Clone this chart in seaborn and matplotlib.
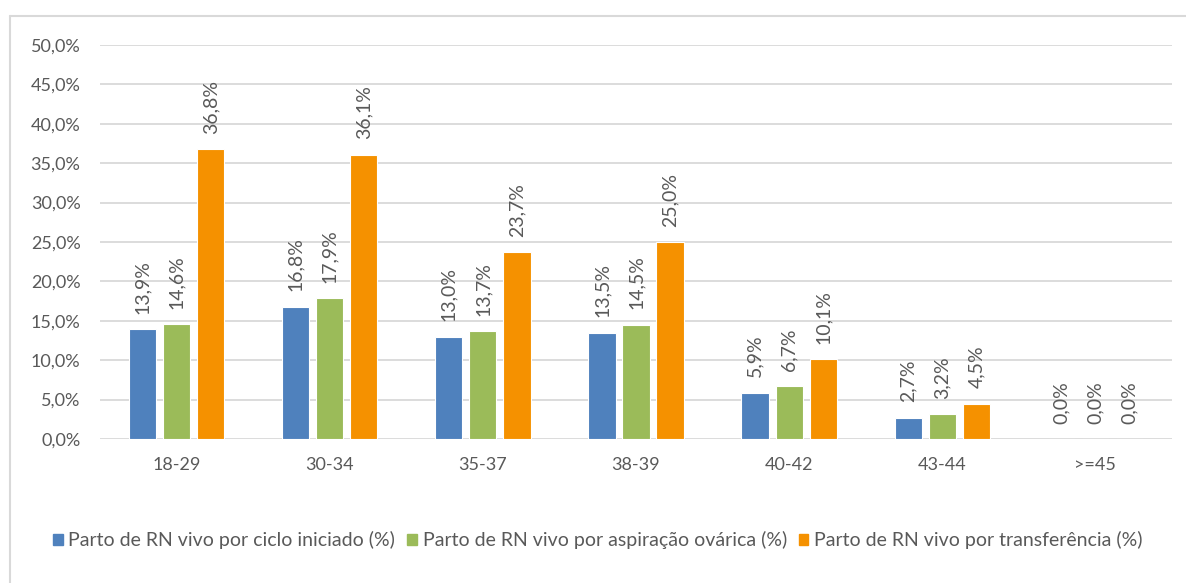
import numpy as np
import pandas as pd
import matplotlib
matplotlib.use('Agg')
import matplotlib.pyplot as plt
import seaborn as sns
from matplotlib.lines import Line2D
from matplotlib.ticker import FuncFormatter

age_groups = ['18-29', '30-34', '35-37', '38-39', '40-42', '43-44', '>=45']
series_names = [
    'Parto de RN vivo por ciclo iniciado (%)',
    'Parto de RN vivo por aspiração ovárica (%)',
    'Parto de RN vivo por transferência (%)',
]
por_ciclo = [13.9, 16.8, 13.0, 13.5, 5.9, 2.7, 0.0]
por_aspiracao = [14.6, 17.9, 13.7, 14.5, 6.7, 3.2, 0.0]
por_transferencia = [36.8, 36.1, 23.7, 25.0, 10.1, 4.5, 0.0]
colors = ['#4F81BD', '#9BBB59', '#F59100']

TEXT = '#595959'
GRID = '#D9D9D9'

sns.set_style('white')
plt.rcParams['font.family'] = ['Lato', 'DejaVu Sans']

df = pd.DataFrame({
    'grupo': age_groups * 3,
    'serie': np.repeat(series_names, len(age_groups)),
    'valor': por_ciclo + por_aspiracao + por_transferencia,
})

fig = plt.figure(figsize=(11.86, 5.83), dpi=100)
ax = fig.add_axes([100 / 1186, 144 / 583, 1072 / 1186, 394 / 583])

sns.barplot(data=df, x='grupo', y='valor', hue='serie', palette=colors,
            width=0.667, gap=0.2, edgecolor='white', linewidth=0.8,
            saturation=1, ax=ax, legend=False)

for cont, vals in zip(ax.containers, [por_ciclo, por_aspiracao, por_transferencia]):
    labels = [f"{v:.1f}%".replace('.', ',') for v in vals]
    ax.bar_label(cont, labels=labels, rotation=90, padding=11,
                 color=TEXT, fontsize=14)

ax.set_ylim(0, 50)
ax.set_xlim(-0.5, len(age_groups) - 0.5)
ax.set_yticks(np.arange(0, 50.1, 5))
ax.yaxis.set_major_formatter(FuncFormatter(lambda v, p: f"{v:.1f}%".replace('.', ',')))
ax.grid(axis='y', color=GRID, linewidth=1.3)
ax.set_axisbelow(True)
for s in ax.spines.values():
    s.set_visible(False)
ax.tick_params(axis='both', length=0, labelsize=13, colors=TEXT)
ax.tick_params(axis='y', pad=14)
ax.tick_params(axis='x', pad=13)
ax.set_xlabel('')
ax.set_ylabel('')

handles = [plt.Rectangle((0, 0), 1, 1, color=c) for c in colors]
fig.legend(handles, series_names, loc='center', bbox_to_anchor=(0.504, 1 - 540 / 583),
           ncol=3, frameon=False, fontsize=14, labelcolor=TEXT,
           handlelength=0.5, handleheight=0.5, handletextpad=0.3,
           columnspacing=0.6)

# chart border (left and top edges visible in the reference)
fig.add_artist(Line2D([10 / 1186, 10 / 1186], [0, 1 - 16 / 583],
                      transform=fig.transFigure, color=GRID, linewidth=1.5))
fig.add_artist(Line2D([10 / 1186, 1], [1 - 16 / 583, 1 - 16 / 583],
                      transform=fig.transFigure, color=GRID, linewidth=1.5))

fig.savefig('out.png', dpi=100, facecolor='white')
